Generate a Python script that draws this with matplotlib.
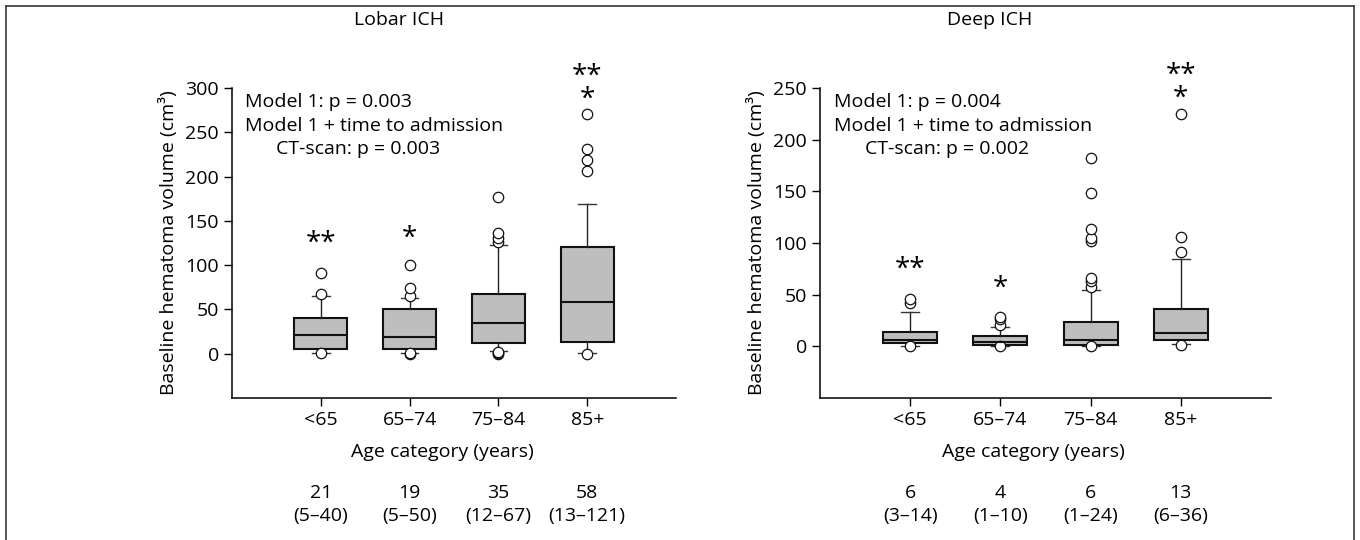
import matplotlib.pyplot as plt
from matplotlib.lines import Line2D
from matplotlib.transforms import blended_transform_factory

plt.rcParams['font.family'] = ['Open Sans', 'DejaVu Sans']
plt.rcParams['font.size'] = 14

# Age groups
categories = ["<65", "65–74", "75–84", "85+"]

# Lobar ICH: median, q1, q3, whiskers, outliers
lobar_med = [21, 19, 35, 58]
lobar_q1 = [5, 5, 12, 13]
lobar_q3 = [40, 50, 67, 121]
lobar_wlo = [1, 1, 3, 1]
lobar_whi = [65, 63, 123, 169]
lobar_out = [[0.5, 67, 91],
             [0, 1, 65, 74, 100],
             [0, 1, 2, 126, 131, 136, 177],
             [0, 206, 219, 231, 271]]
lobar_stars = ["**", "*", None, "**\n*"]
lobar_star_y = [124, 130, None, 300]
lobar_counts = ["21\n(5–40)", "19\n(5–50)", "35\n(12–67)", "58\n(13–121)"]

# Deep ICH
deep_med = [6, 4, 6, 13]
deep_q1 = [3, 1, 1, 6]
deep_q3 = [14, 10, 24, 36]
deep_wlo = [0.5, 0.5, 0.5, 2]
deep_whi = [33, 19, 55, 85]
deep_out = [[0, 42, 46],
            [0, 21, 26, 28],
            [0, 57, 63, 66, 102, 105, 114, 148, 182],
            [1, 91, 106, 225]]
deep_stars = ["**", "*", None, "**\n*"]
deep_star_y = [74, 56, None, 251]
deep_counts = ["6\n(3–14)", "4\n(1–10)", "6\n(1–24)", "13\n(6–36)"]


def panel(ax, title, med, q1, q3, wlo, whi, out, stars, star_y, counts,
          ylim, yticks, p1, p2):
    stats = []
    for i in range(len(categories)):
        stats.append(dict(med=med[i], q1=q1[i], q3=q3[i], whislo=wlo[i],
                          whishi=whi[i], fliers=out[i], label=categories[i]))
    ax.bxp(stats, positions=range(1, 5), widths=0.6, capwidths=0.2,
           patch_artist=True,
           boxprops=dict(facecolor='#bebebf', edgecolor='#111111', linewidth=1.5),
           medianprops=dict(color='#111111', linewidth=1.5),
           whiskerprops=dict(color='#222222', linewidth=1),
           capprops=dict(color='#333333', linewidth=1),
           flierprops=dict(marker='o', markerfacecolor='white',
                           markeredgecolor='#111111', markersize=7.5,
                           markeredgewidth=0.9))
    ax.set_xlim(0, 5)
    ax.set_ylim(*ylim)
    ax.set_yticks(yticks)
    ax.spines['top'].set_visible(False)
    ax.spines['right'].set_visible(False)
    ax.spines['left'].set_bounds(ylim[0], yticks[-1])
    for s in ['left', 'bottom']:
        ax.spines[s].set_linewidth(1.1)
    ax.tick_params(direction='out', length=6, width=1, labelsize=14)
    ax.set_xticks(range(1, 5))
    ax.set_xticklabels(categories)
    ax.set_ylabel("Baseline hematoma volume (cm³)", fontsize=14, labelpad=5)

    trans = blended_transform_factory(ax.transData, ax.transAxes)
    for i in range(len(categories)):
        if stars[i]:
            ax.text(i + 1, star_y[i], stars[i], ha='center', va='center',
                    fontsize=20, linespacing=0.75)
        ax.text(i + 1, -0.343, counts[i], ha='center', va='center',
                transform=trans, fontsize=14, linespacing=1.35)

    ax.text(0.473, -0.174, "Age category (years)", ha='center', va='center',
            transform=ax.transAxes, fontsize=14)
    ax.text(0.376, 1.218, title, ha='center', va='center',
            transform=ax.transAxes, fontsize=14)
    ax.text(0.03, 0.956, "Model 1: p = " + p1, transform=ax.transAxes,
            va='center', fontsize=14)
    ax.text(0.03, 0.879, "Model 1 + time to admission", transform=ax.transAxes,
            va='center', fontsize=14)
    ax.text(0.10, 0.803, "CT-scan: p = " + p2, transform=ax.transAxes,
            va='center', fontsize=14)


fig = plt.figure(figsize=(13.6, 5.4), dpi=100)
ax1 = fig.add_axes([232 / 1360, 142 / 540, 444 / 1360, 310 / 540])
ax2 = fig.add_axes([820 / 1360, 142 / 540, 451 / 1360, 310 / 540])

panel(ax1, "Lobar ICH", lobar_med, lobar_q1, lobar_q3, lobar_wlo, lobar_whi,
      lobar_out, lobar_stars, lobar_star_y, lobar_counts,
      (-50, 300), [0, 50, 100, 150, 200, 250, 300], "0.003", "0.003")
panel(ax2, "Deep ICH", deep_med, deep_q1, deep_q3, deep_wlo, deep_whi,
      deep_out, deep_stars, deep_star_y, deep_counts,
      (-50, 250), [0, 50, 100, 150, 200, 250], "0.004", "0.002")

# frame around the figure
for xs, ys in [([6, 6], [0, 534]), ([6, 1354], [534, 534]), ([1354, 1354], [534, 0])]:
    fig.add_artist(Line2D([x / 1360 for x in xs], [y / 540 for y in ys],
                          color='#444444', linewidth=1.3))

fig.savefig("out.png", dpi=100)
